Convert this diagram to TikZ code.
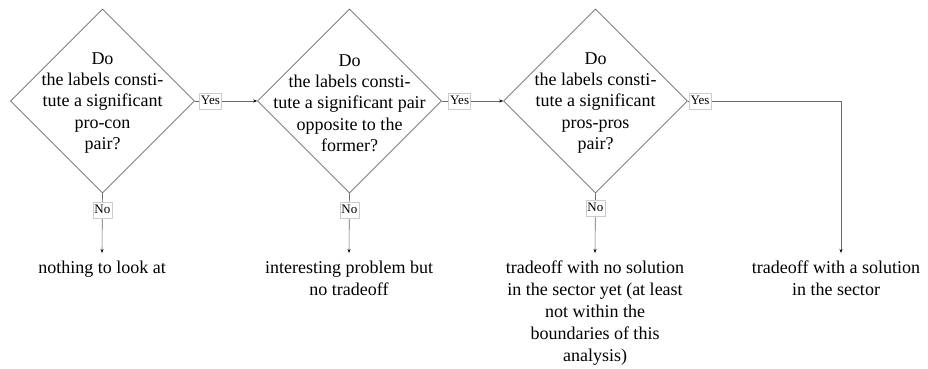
\documentclass[tikz,border=0pt]{standalone}
\usepackage{fontspec}
\setmainfont{Liberation Serif}
\usetikzlibrary{shapes.geometric,arrows.meta,calc}
\definecolor{linegray}{HTML}{6A6A6A}
\definecolor{boxgray}{HTML}{CCCCCC}
\begin{document}
\begin{tikzpicture}[x=1pt,y=-1pt,
  decision/.style={diamond,aspect=1,minimum width=184pt,minimum height=184pt,inner sep=0pt,draw=linegray,line width=0.6pt},
  qtext/.style={align=center,font=\fontsize{18}{21.3}\selectfont,inner sep=0pt},
  endtext/.style={align=center,font=\fontsize{18}{22}\selectfont,inner xsep=0pt,inner ysep=8pt,anchor=north},
  lbl/.style={draw=boxgray,fill=white,line width=0.5pt,font=\fontsize{13}{14}\selectfont,inner xsep=1.5pt,inner ysep=2pt,text height=9pt,text depth=2.5pt},
  conn/.style={draw=linegray,line width=0.6pt,-{Stealth[length=4pt,width=3pt,color=black]}}
]
\useasboundingbox (0,0) rectangle (928,369);
\node[decision] (d1) at (102.5,101) {};
\node[decision] (d2) at (349.5,101) {};
\node[decision] (d3) at (595.5,101) {};
\node[qtext] (q1) at (102.5,103) {Do\\the labels consti-\\tute a significant\\pro-con\\pair?};
\node[qtext] (q2) at (349.5,103) {Do\\the labels consti-\\tute a significant pair\\opposite to the\\former?};
\node[qtext] (q3) at (595.5,103) {Do\\the labels consti-\\tute a significant\\pros-pros\\pair?};
\node[endtext] (e1) at (102,253) {nothing to look at};
\node[endtext] (e2) at (349,253) {interesting problem but\\no tradeoff};
\node[endtext] (e3) at (595,253) {tradeoff with no solution\\in the sector yet (at least\\not within the\\boundaries of this\\analysis)};
\node[endtext] (e4) at (836,253) {tradeoff with a solution\\in the sector};
\coordinate (c3) at (841,101);
\draw[conn] (d1.east) -- node[lbl,pos=0.25]{Yes} (d2.west);
\draw[conn] (d2.east) -- node[lbl,pos=0.29]{Yes} (d3.west);
\draw[conn] (d3.east) -- node[lbl,pos=0.08]{Yes} (c3) -- (c3 |- e4.north);
\draw[conn] (d1.south) -- node[lbl,pos=0.28]{No} (e1.north);
\draw[conn] (d2.south) -- node[lbl,pos=0.28]{No} (e2.north);
\draw[conn] (d3.south) -- node[lbl,pos=0.25]{No} (e3.north);
\end{tikzpicture}
\end{document}
